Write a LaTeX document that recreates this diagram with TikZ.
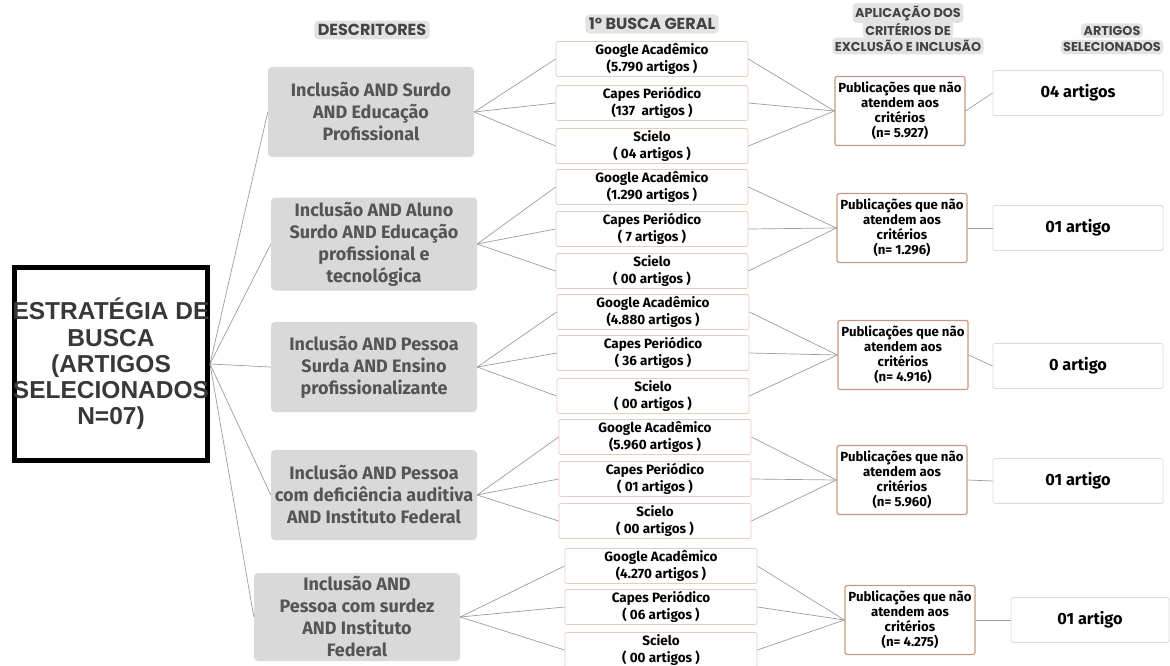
\documentclass[tikz,border=0pt]{standalone}
\usepackage{fontspec}
\setmainfont{Fira Sans}
\newfontfamily\hdrfamily{Poppins}
\newfontfamily\leftfamily{Liberation Sans}
\newcommand{\zl}[1]{\makebox[0pt][c]{#1}}
\definecolor{descgray}{HTML}{D9D9D9}
\definecolor{desctext}{HTML}{555555}
\definecolor{hdrgray}{HTML}{E3E3E3}
\definecolor{hdrtext}{HTML}{444444}
\definecolor{srcborder}{HTML}{E6CDC3}
\definecolor{critborder}{HTML}{C49A84}
\definecolor{resborder}{HTML}{DADADA}
\definecolor{linegray}{HTML}{9C9C9C}
\definecolor{lefttext}{HTML}{383838}
\begin{document}
\begin{tikzpicture}[x=1pt,y=-1pt,
  descbox/.style={fill=descgray, rounded corners=4pt, text=desctext, align=center,
    minimum width=206, minimum height=90, inner sep=2pt,
    font=\bfseries\fontsize{18}{22}\selectfont},
  srcbox/.style={draw=srcborder, line width=0.8pt, rounded corners=2pt, fill=white,
    minimum width=192, minimum height=35, inner sep=1pt, align=center,
    font=\bfseries\fontsize{13.5}{17.5}\selectfont},
  critbox/.style={draw=critborder, line width=1.2pt, rounded corners=2pt, fill=white,
    minimum width=130, minimum height=69, inner sep=1pt, align=center,
    font=\bfseries\fontsize{13.2}{15}\selectfont},
  resbox/.style={draw=resborder, line width=0.8pt, rounded corners=2pt, fill=white,
    minimum width=170, minimum height=45, inner sep=1pt, align=center,
    font=\bfseries\fontsize{16.3}{19}\selectfont},
  hdr/.style={fill=hdrgray, rounded corners=4pt, text=hdrtext, inner sep=3.5pt,
    font=\hdrfamily\bfseries\fontsize{16}{18}\selectfont},
  hdrs/.style={hdr, inner sep=2.5pt, font=\hdrfamily\bfseries\fontsize{12.8}{15}\selectfont},
  leftbox/.style={draw=black, line width=5pt, minimum size=193, inner sep=0pt, align=center,
    text=lefttext, font=\leftfamily\bfseries\fontsize{24.5}{26.3}\selectfont},
  link/.style={draw=linegray, line width=0.7pt}
]
\useasboundingbox (0,0) rectangle (1170,666);

% headers
\node[hdr] (h1) at (372,30) {DESCRITORES};
\node[hdr] (h2) at (652,24) {1º BUSCA GERAL};
\node[hdrs] (h3c) at (908,46) {EXCLUSÃO E INCLUSÃO};
\node[hdrs] (h3b) at (908,29.5) {CRITÉRIOS DE};
\node[hdrs] (h3a) at (908,13) {APLICAÇÃO DOS};
\node[hdrs] (h4b) at (1112,47) {SELECIONADOS};
\node[hdrs] (h4a) at (1112,30.5) {ARTIGOS};

% left box
\node[leftbox] (L) at (111,364) {\zl{ESTRATÉGIA DE}\\\zl{BUSCA}\\\zl{(ARTIGOS}\\\zl{SELECIONADOS}\\\zl{N=07)}};

% descriptors
\node[descbox] (d1) at (371,112) {Inclusão AND Surdo\\AND Educação\\Profissional};
\node[descbox, minimum height=93] (d2) at (374,244) {Inclusão AND Aluno\\Surdo AND Educação\\profissional e\\tecnológica};
\node[descbox] (d3) at (374,367) {Inclusão AND Pessoa\\Surda AND Ensino\\profissionalizante};
\node[descbox] (d4) at (374,495) {Inclusão AND Pessoa\\com deficiência auditiva\\AND Instituto Federal};
\node[descbox, minimum height=88] (d5) at (357,617) {Inclusão AND\\Pessoa com surdez\\AND Instituto\\Federal};

% sources
\node[srcbox] (g1) at (652,59) {Google Acadêmico\\(5.790 artigos )};
\node[srcbox] (c1) at (652,103) {Capes Periódico\\(137\ \ artigos )};
\node[srcbox] (s1) at (652,146) {Scielo\\( 04 artigos )};
\node[srcbox] (g2) at (652,187) {Google Acadêmico\\(1.290 artigos )};
\node[srcbox] (c2) at (652,229) {Capes Periódico\\( 7 artigos )};
\node[srcbox] (s2) at (652,271) {Scielo\\( 00 artigos )};
\node[srcbox] (g3) at (653,312) {Google Acadêmico\\(4.880 artigos )};
\node[srcbox] (c3) at (653,353) {Capes Periódico\\( 36 artigos )};
\node[srcbox] (s3) at (653,396) {Scielo\\( 00 artigos )};
\node[srcbox] (g4) at (655,437) {Google Acadêmico\\(5.960 artigos )};
\node[srcbox] (c4) at (655,479) {Capes Periódico\\( 01 artigos )};
\node[srcbox] (s4) at (655,521) {Scielo\\( 00 artigos )};
\node[srcbox] (g5) at (661,566) {Google Acadêmico\\(4.270 artigos )};
\node[srcbox] (c5) at (661,607) {Capes Periódico\\( 06 artigos )};
\node[srcbox] (s5) at (661,650) {Scielo\\( 00 artigos )};

% criteria
\node[critbox] (k1) at (900,111) {Publicações que não\\atendem aos\\critérios\\(n= 5.927)};
\node[critbox] (k2) at (902,228) {Publicações que não\\atendem aos\\critérios\\(n= 1.296)};
\node[critbox] (k3) at (903,355) {Publicações que não\\atendem aos\\critérios\\(n= 4.916)};
\node[critbox] (k4) at (902,480) {Publicações que não\\atendem aos\\critérios\\(n= 5.960)};
\node[critbox] (k5) at (910,620) {Publicações que não\\atendem aos\\critérios\\(n= 4.275)};

% results
\node[resbox] (r1) at (1078,93) {04 artigos};
\node[resbox] (r2) at (1078,228) {01 artigo};
\node[resbox] (r3) at (1078,366) {0 artigo};
\node[resbox] (r4) at (1078,481) {01 artigo};
\node[resbox, minimum width=158] (r5) at (1090,620) {01 artigo};

% connectors
\foreach \i in {1,...,5} {
  \draw[link] (L.east) -- (d\i.west);
  \draw[link] (d\i.east) -- (g\i.west);
  \draw[link] (d\i.east) -- (c\i.west);
  \draw[link] (d\i.east) -- (s\i.west);
  \draw[link] (g\i.east) -- (k\i.west);
  \draw[link] (c\i.east) -- (k\i.west);
  \draw[link] (s\i.east) -- (k\i.west);
  \draw[link] (k\i.east) -- (r\i.west);
}
\end{tikzpicture}
\end{document}
